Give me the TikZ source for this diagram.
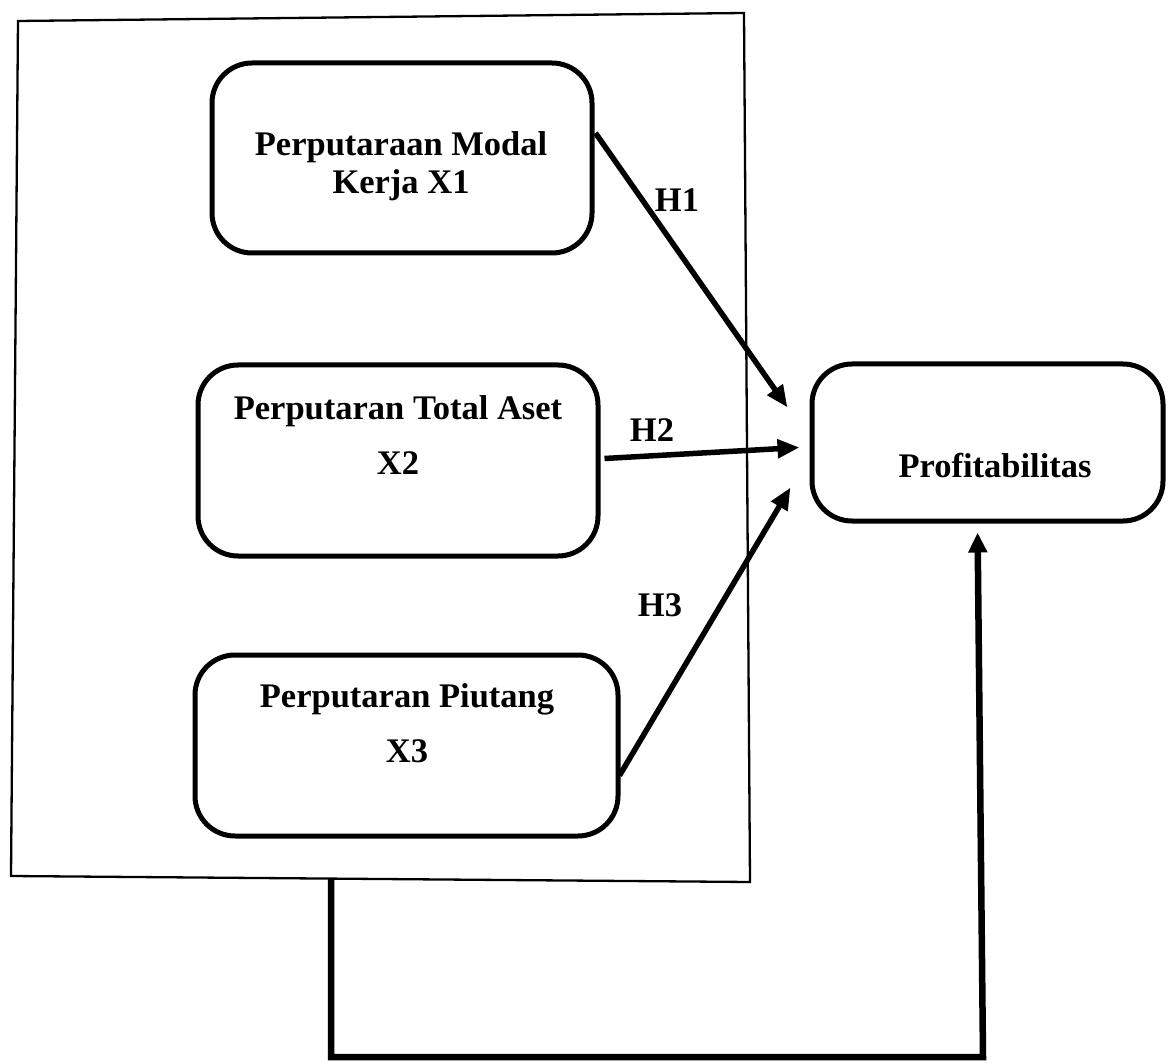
\documentclass[tikz,border=0pt]{standalone}
\usepackage{fontspec}
\setmainfont{Liberation Serif}
\usetikzlibrary{arrows.meta,calc}
\tikzset{
  boxstyle/.style={draw, line width=5pt, rounded corners=40pt, inner sep=0pt},
  lbl/.style={font=\fontsize{34.5}{39}\selectfont\bfseries, inner sep=0pt, text height=0.66em, text depth=0em, anchor=center},
  hyp/.style={line width=5.5pt, -{Triangle[length=22pt,width=18pt]}},
  framestyle/.style={line width=2.3pt, line join=miter},
  longconn/.style={line width=6.5pt, line join=miter, -{Triangle[length=20pt,width=18pt]}}
}
\begin{document}
\begin{tikzpicture}[x=1pt,y=-1pt]
\useasboundingbox (0,0) rectangle (1173,1064);
% outer frame
\coordinate (ftl) at (18,21);
\coordinate (ftr) at (744,13);
\coordinate (fbr) at (750,882);
\coordinate (fbl) at (11,876);
\draw[framestyle] (ftl) -- (ftr) -- (fbr) -- (fbl) -- cycle;
% boxes
\node[boxstyle, minimum width=380pt, minimum height=190pt] (b1) at (402,158) {};
\node[boxstyle, minimum width=400pt, minimum height=191pt] (b2) at (398,460.5) {};
\node[boxstyle, minimum width=423pt, minimum height=181pt] (b3) at (406.5,745.5) {};
\node[boxstyle, minimum width=351pt, minimum height=157pt] (prof) at (987.5,442.5) {};
% texts
\node[lbl] (t1a) at (401,152) {Perputaraan Modal};
\node[lbl] (t1b) at (401,190) {Kerja X1};
\node[lbl] (t2a) at (398,416) {Perputaran Total Aset};
\node[lbl] (t2b) at (398,471) {X2};
\node[lbl] (t3a) at (407,704) {Perputaran Piutang};
\node[lbl] (t3b) at (407,759) {X3};
\node[lbl] (tp) at (995,474) {Profitabilitas};
% hypothesis arrows
\draw[hyp] ($(b1.east)+(1,-25)$) -- ($(prof.west)+(-22,-35)$);
\draw[hyp] ($(b2.east)+(4,-2)$) -- ($(prof.west)+(-10,5)$);
\draw[hyp] ($(b3.east)+(-1,30)$) -- ($(prof.west)+(-19,45)$);
\node[lbl] (h1) at (677,208) {H1};
\node[lbl] (h2) at (652,438) {H2};
\node[lbl] (h3) at (660,613) {H3};
% long connector
\coordinate (cstart) at (331,879);
\coordinate (cb1) at (331,1057);
\coordinate (cb2) at (983,1057);
\draw[longconn, shorten >=9pt] (cstart) -- (cb1) -- (cb2) -- ($(prof.south)+(-10,0)$);
\end{tikzpicture}
\end{document}
